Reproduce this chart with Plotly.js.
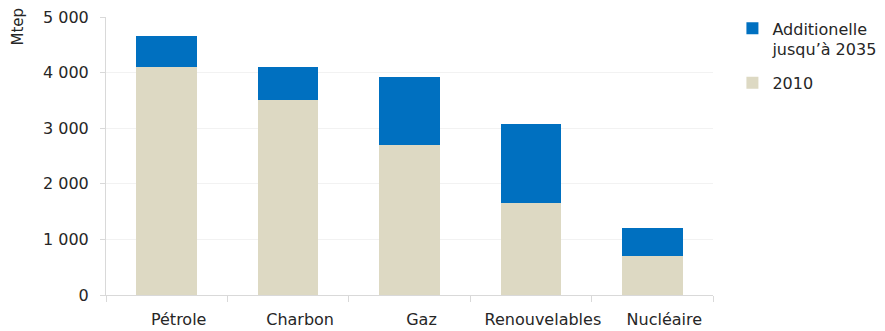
<!DOCTYPE html>
<html>
<head>
<meta charset="utf-8">
<script src="https://cdn.plot.ly/plotly-3.0.1.min.js"></script>
<style>
  html, body { margin: 0; padding: 0; background: #fff; }
  #chart { width: 885px; height: 331px; }
</style>
</head>
<body>
<div id="chart"></div>
<script>
// Demande d'énergie primaire par combustible (Mtep)
const categories = ["Pétrole", "Charbon", "Gaz", "Renouvelables", "Nucléaire"];
const demand2010 = [4100, 3500, 2700, 1650, 710];
const additional2035 = [550, 600, 1220, 1420, 500];
const yTickValues = [0, 1000, 2000, 3000, 4000, 5000];
const yTickLabels = ["0", "1 000", "2 000", "3 000", "4 000", "5 000"];

const font = "'DejaVu Sans', 'Noto Sans', sans-serif";
const textColor = "#262626";

const traces = [
  {
    type: "bar",
    name: "2010",
    x: categories,
    y: demand2010,
    marker: { color: "#DDD9C3" },
    legend: "legend2",
    hoverinfo: "x+y+name"
  },
  {
    type: "bar",
    name: "Additionelle<br>jusqu’à 2035",
    x: categories,
    y: additional2035,
    marker: { color: "#0070C0" },
    legend: "legend",
    hoverinfo: "x+y+name"
  }
];

const legendStyle = {
  x: 1.032,
  xanchor: "left",
  valign: "top",
  font: { family: font, size: 16, color: textColor },
  itemwidth: 30,
  bgcolor: "rgba(0,0,0,0)"
};

const layout = {
  width: 885,
  height: 331,
  margin: { l: 106, r: 172, t: 17, b: 36, autoexpand: false },
  paper_bgcolor: "#ffffff",
  plot_bgcolor: "#ffffff",
  barmode: "stack",
  bargap: 0.5,
  font: { family: font, size: 16, color: textColor },
  showlegend: true,
  legend: Object.assign({}, legendStyle, { y: 1.02, yanchor: "top" }),
  legend2: Object.assign({}, legendStyle, { y: 0.763, yanchor: "middle" }),
  xaxis: {
    type: "category",
    tickson: "boundaries",
    ticks: "outside",
    ticklen: 6,
    tickcolor: "#d9d9d9",
    tickangle: 0,
    showline: true,
    linecolor: "#d9d9d9",
    linewidth: 1,
    showgrid: false,
    ticklabelshift: 12,
    ticklabelstandoff: 10,
    tickfont: { family: font, size: 16, color: textColor },
    fixedrange: true
  },
  yaxis: {
    range: [0, 5000],
    tickvals: yTickValues,
    ticktext: yTickLabels,
    ticks: "outside",
    ticklen: 5,
    tickcolor: "#d9d9d9",
    showline: true,
    linecolor: "#d9d9d9",
    linewidth: 1,
    showgrid: true,
    gridcolor: "#f2f2f2",
    gridwidth: 1,
    zeroline: false,
    ticklabelstandoff: 8,
    tickfont: { family: font, size: 16, color: textColor },
    fixedrange: true
  },
  annotations: [
    {
      text: "Mtep",
      xref: "paper",
      yref: "paper",
      x: 0,
      xshift: -88,
      xanchor: "center",
      y: 0.966,
      yanchor: "middle",
      textangle: -90,
      showarrow: false,
      font: { family: font, size: 15, color: textColor }
    }
  ]
};

Plotly.newPlot("chart", traces, layout, { displayModeBar: false, staticPlot: true });
</script>
</body>
</html>
